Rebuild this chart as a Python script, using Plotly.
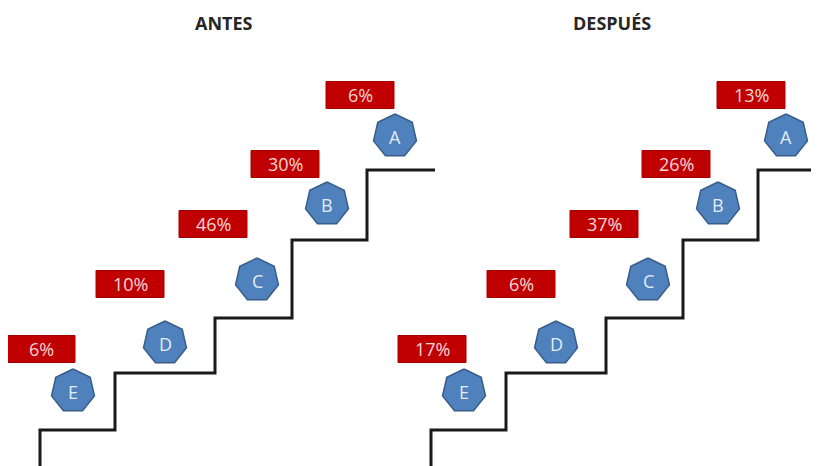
import math
import plotly.graph_objects as go

# ---- data ----
categories = ["A", "B", "C", "D", "E"]
antes = [6, 30, 46, 10, 6]
despues = [13, 26, 37, 6, 17]
panel_titles = ["ANTES", "DESPUÉS"]
panels = [antes, despues]

# ---- layout constants (pixel coordinate system of the canvas) ----
W, H = 819, 466
PAGE_MARGIN = 8  # default body margin of the html page
PANEL_DX = [0, 391]
HEPT_POS = {"A": (395, 136), "B": (327, 204), "C": (257, 280), "D": (165, 343), "E": (73, 391)}
BOX_POS = {"A": (360, 95), "B": (285, 164), "C": (213, 224), "D": (130, 284), "E": (41, 349)}
STAIR_X = [40, 40, 115, 115, 215, 215, 292, 292, 367, 367, 435]
STAIR_Y = [470, 430, 430, 373, 373, 318, 318, 240, 240, 170, 170]
TITLE_X = [224, 612]
TITLE_Y = 23
R_HEPT = 22
BOX_W, BOX_H = 68, 27

HEPT_FILL = "#4F81BD"
HEPT_LINE = "#385D8A"
BOX_FILL = "#C00000"
BOX_LINE = "#A50000"
FONT = "Open Sans"

fig = go.Figure()
shapes = []
annotations = []

for p, values in enumerate(panels):
    dx = PANEL_DX[p]
    # staircase
    fig.add_trace(go.Scatter(
        x=[x + dx for x in STAIR_X], y=STAIR_Y, mode="lines",
        line=dict(color="#1a1a1a", width=3), hoverinfo="skip", showlegend=False))
    for cat, val in zip(categories, values):
        cx, cy = HEPT_POS[cat]
        cx += dx
        angs = [math.radians(90 + k * 360 / 7) for k in range(8)]
        hx = [cx + R_HEPT * math.cos(a) for a in angs]
        hy = [cy - R_HEPT * math.sin(a) for a in angs]
        fig.add_trace(go.Scatter(
            x=hx, y=hy, mode="lines", fill="toself", fillcolor=HEPT_FILL,
            line=dict(color=HEPT_LINE, width=1.5), hoverinfo="skip", showlegend=False))
        annotations.append(dict(
            x=cx, y=cy + 1, text=cat, showarrow=False, xanchor="center", yanchor="middle",
            font=dict(family=FONT, size=18, color="#E4EBF5")))
        bx, by = BOX_POS[cat]
        bx += dx
        shapes.append(dict(
            type="rect", x0=bx - BOX_W / 2, x1=bx + BOX_W / 2,
            y0=by - BOX_H / 2, y1=by + BOX_H / 2,
            fillcolor=BOX_FILL, line=dict(color=BOX_LINE, width=1), layer="above"))
        annotations.append(dict(
            x=bx, y=by, text=f"{val}%", showarrow=False, xanchor="center", yanchor="middle",
            font=dict(family=FONT, size=18, color="#F6D6D6")))
    annotations.append(dict(
        x=TITLE_X[p], y=TITLE_Y, text=f"<b>{panel_titles[p]}</b>", showarrow=False,
        xanchor="center", yanchor="middle",
        font=dict(family=FONT, size=18, color="#262626")))

fig.update_layout(
    width=W, height=H, autosize=False,
    margin=dict(l=0, r=0, t=0, b=0),
    paper_bgcolor="white", plot_bgcolor="white",
    xaxis=dict(range=[PAGE_MARGIN, W + PAGE_MARGIN], visible=False, fixedrange=True),
    yaxis=dict(range=[H + PAGE_MARGIN, PAGE_MARGIN], visible=False, fixedrange=True),
    shapes=shapes, annotations=annotations, showlegend=False,
)

fig.write_html("out.html", config={"displayModeBar": False})
